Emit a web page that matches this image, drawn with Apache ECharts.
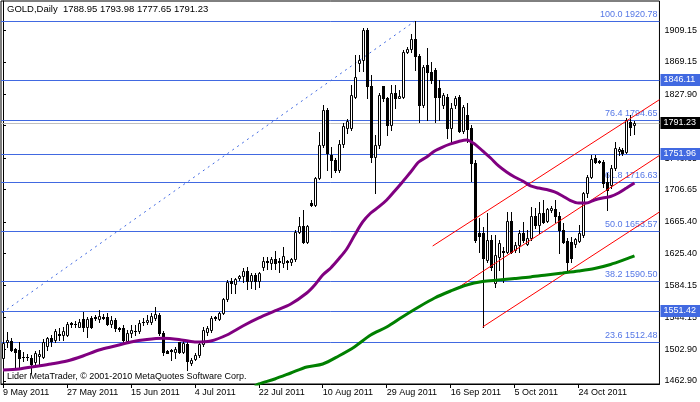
<!DOCTYPE html>
<html><head><meta charset="utf-8">
<script src="https://cdn.jsdelivr.net/npm/echarts@6/dist/echarts.min.js"></script>
<style>html,body{margin:0;padding:0;background:#fff}#c{width:700px;height:402px}</style>
</head><body><div id="c"></div>
<script>
// ---- data (bar index 0 = 9 May 2011, one bar per day except Saturdays) ----
const openP = [1492,1512,1514,1503,1502,1494,1493,1492,1487,1495,1494,1508,1517,1515,1523,1522,1522,1536,1536,1532,
1542,1532,1543,1543,1542,1544,1544,1535,1541,1530,1530,1514,1524,1527,1527,1538,1538,1538,1543,1547,
1524,1501,1501,1500,1512,1500,1510,1486,1491,1496,1510,1525,1528,1543,1542,1549,1567,1590,1586,1594,
1596,1603,1590,1598,1590,1608,1614,1613,1618,1614,1613,1615,1614,1618,1653,1660,1640,1690,1687,1721,
1763,1808,1751,1744,1731,1765,1785,1785,1825,1868,1872,1910,1838,1748,1763,1838,1823,1789,1829,1823,
1825,1882,1886,1898,1876,1814,1865,1856,1859,1836,1814,1825,1785,1814,1824,1781,1801,1785,1740,1651,
1651,1617,1642,1588,1621,1628,1627,1667,1630,1636,1651,1637,1645,1673,1662,1677,1667,1680,1682,1673,
1655,1641,1640,1637,1641,1649,1702,1723,1747,1743,1742,1716,1712,1734,1755,1757,1754,1793,1788.95];
const highP = [1513,1525,1518,1505,1512,1500,1497,1496,1501,1502,1516,1519,1521,1529,1530,1532,1538,1538,1539,1542,
1551,1544,1546,1547,1553,1548,1549,1545,1543,1531,1534,1528,1534,1534,1540,1543,1547,1549,1557,1549,
1526,1502,1504,1506,1513,1514,1512,1492,1499,1513,1531,1533,1546,1546,1551,1569,1591,1594,1594,1598,
1607,1608,1600,1600,1602,1621,1621,1621,1628,1619,1634,1617,1619,1655,1672,1680,1662,1693,1723,1780,
1814,1810,1761,1747,1770,1791,1797,1840,1878,1878,1912,1912,1853,1776,1830,1839,1824,1840,1840,1833,
1884,1888,1905,1920.78,1879,1865,1887,1869,1861,1846,1830,1828,1817,1826,1827,1814,1817,1789,1744,1670,
1659,1677,1649,1649,1642,1633,1678,1678,1640,1655,1665,1655,1684,1683,1691,1693,1683,1685,1693,1678,
1664,1645,1646,1645,1661,1703,1725,1751,1751,1744,1744,1728,1738,1767,1761,1759,1798,1801,1793.98];
const lowP = [1491,1506,1501,1480,1479,1488,1490,1473,1484,1485,1492,1502,1508,1512,1515,1515,1520,1532,1532,1531,
1526,1519,1530,1541,1538,1542,1534,1532,1526,1527,1513,1513,1519,1521,1524,1534,1536,1536,1540,1521,
1496,1498,1490,1492,1498,1498,1477,1483,1489,1494,1507,1522,1525,1540,1540,1548,1565,1575,1575,1591,
1589,1580,1581,1580,1583,1604,1606,1606,1606,1602,1608,1606,1610,1616,1651,1639,1638,1685,1685,1720,
1761,1731,1723,1729,1729,1761,1778,1782,1823,1857,1857,1823,1742,1702,1760,1819,1776,1782,1810,1823,
1823,1880,1882,1859,1793,1812,1795,1842,1793,1795,1810,1772,1766,1810,1780,1778,1767,1718,1640,1627,
1532,1614,1604,1583,1604,1589,1626,1626,1627,1627,1640,1636,1642,1658,1651,1664,1665,1678,1665,1626,
1638,1602,1614,1633,1640,1646,1697,1721,1740,1740,1710,1680,1708,1731,1751,1751,1753,1776,1777.65];
const closeP = [1511,1515,1502,1500,1492,1493,1494,1485,1498,1497,1513,1517,1514,1526,1522,1526,1536,1537,1535,1538,
1532,1542,1532,1544,1545,1543,1535,1541,1530,1529,1515,1524,1528,1527,1537,1538,1541,1546,1548,1524,
1500,1499,1502,1504,1500,1511,1488,1490,1496,1510,1528,1530,1543,1544,1549,1567,1589,1587,1593,1596,
1603,1590,1598,1590,1600,1616,1615,1618,1613,1615,1622,1614,1618,1653,1660,1640,1660,1687,1721,1763,
1808,1753,1744,1731,1765,1787,1794,1827,1850,1872,1910,1838,1748,1763,1827,1823,1789,1829,1823,1826,
1882,1885,1898,1876,1814,1863,1856,1846,1824,1824,1827,1785,1810,1823,1781,1812,1784,1740,1642,1647,
1619,1642,1608,1623,1639,1627,1667,1627,1636,1651,1642,1645,1673,1662,1677,1665,1682,1683,1673,1655,
1640,1614,1619,1643,1651,1702,1723,1745,1742,1742,1715,1706,1734,1760,1758,1753,1795,1786,1791.23];

// moving averages: [bar index, price]
const purpleMA = [[0,1476.9],[4,1478.1],[8,1481.3],[12,1484.5],[16,1488.3],[20,1494.7],[24,1502.3],[28,1507.4],
[32,1512.5],[36,1515.7],[40,1517.2],[44,1515.7],[48,1512.5],[52,1513.8],[56,1521.4],[60,1532.9],[64,1543.1],
[68,1552.0],[72,1560.9],[76,1574.9],[78,1585.1],[80,1597.8],[82,1606.7],[84,1618.2],[86,1630.9],[88,1648.7],
[90,1665.3],[92,1676.7],[94,1684.4],[96,1693.3],[98,1704.7],[100,1716.6],[102,1728.9],[104,1741.6],[106,1748.0],
[108,1755.7],[110,1760.7],[112,1764.6],[114,1767.8],[116,1769.7],[118,1764.6],[120,1755.7],[122,1746.7],
[124,1736.6],[126,1728.9],[128,1722.5],[130,1717.5],[132,1711.1],[134,1708.5],[136,1706.6],[138,1703.5],
[140,1698.4],[142,1692.6],[144,1689.5],[146,1689.5],[148,1693.3],[150,1695.8],[152,1697.7],[154,1702.2],
[156,1708.5],[158,1714.9]];
const greenMA = [[63,1456.5],[64,1459.0],[68,1465.4],[72,1473.0],[76,1480.7],[80,1484.5],[84,1494.7],[88,1506.5],
[92,1521.4],[96,1531.6],[100,1544.7],[104,1557.1],[108,1568.5],[112,1577.4],[116,1585.1],[120,1589.5],
[124,1591.4],[128,1593.3],[132,1595.3],[136,1597.8],[140,1600.3],[144,1602.9],[148,1606.1],[152,1611.2],
[156,1618.2],[158,1622.0]];

// channel lines (red): [start, end] as [bar index, price]
const channelUpper = [[107.5,1634.7],[164.25,1821.0]];
const channelMiddle = [[113.75,1581.3],[164.25,1750.0]];
const channelLower = [[120,1531.6],[164.25,1678.0]];
// Fibonacci trend line (low off-screen -> high)
const fibTrend = [[-45.6,1386.4],[103,1920.78]];
const fibRatios = ['100.0','76.4','61.8','50.0','38.2','23.6'];
const fibPrices = [1920.78,1794.65,1716.63,1653.57,1590.50,1512.48];
const hLinePrices = [1846.11,1751.96,1551.42];
const bidPrice = 1791.23;
const headerText = 'GOLD,Daily  1788.95 1793.98 1777.65 1791.23';

const xTickIndex = [0,16,32,48,64,80,96,112,128,144];
const xTickLabels = ['9 May 2011','27 May 2011','15 Jun 2011','4 Jul 2011','22 Jul 2011','10 Aug 2011',
'29 Aug 2011','16 Sep 2011','5 Oct 2011','24 Oct 2011'];
const yTickValues = [1909.15,1869.15,1827.90,1787.90,1746.65,1706.65,1665.40,1625.40,1584.15,1544.15,1502.90,1462.90];

// ---- chart ----
const FONT = '"Liberation Sans", Arial, sans-serif';
const BLUE = '#4169E1';
const chart = echarts.init(document.getElementById('c'), null, {renderer:'canvas'});

const candleData = openP.map((o,i)=>[i,o,closeP[i],lowP[i],highP[i]]);

function renderCandle(params, api){
  const i = api.value(0), o = api.value(1), c = api.value(2), l = api.value(3), h = api.value(4);
  const pO = api.coord([i,o]), pC = api.coord([i,c]);
  const x = Math.round(pO[0]);
  const yH = Math.round(api.coord([i,h])[1]);
  const yL = Math.round(api.coord([i,l])[1]);
  const top = Math.round(Math.min(pO[1],pC[1])), bot = Math.round(Math.max(pO[1],pC[1]));
  const ch = [{type:'rect', shape:{x:x, y:yH, width:1, height:Math.max(1,yL-yH+1)}, style:{fill:'#000'}}];
  if (c > o && bot - top >= 2) {
    ch.push({type:'rect', shape:{x:x-0.5, y:top+0.5, width:2, height:bot-top}, style:{fill:'#fff', stroke:'#000', lineWidth:1}});
  } else {
    ch.push({type:'rect', shape:{x:x-1, y:top, width:3, height:Math.max(1,bot-top+1)}, style:{fill:'#000'}});
  }
  return {type:'group', children:ch};
}

function renderFib(params, api){
  const cs = params.coordSys;
  const p = api.value(1);
  const y = Math.round(api.coord([0,p])[1]) + 0.5;
  return {type:'group', children:[
    {type:'line', shape:{x1:cs.x, y1:y, x2:cs.x+cs.width, y2:y}, style:{stroke:BLUE, lineWidth:1}},
    {type:'text', x:cs.x+cs.width-2, y:y-2, style:{text:fibRatios[params.dataIndex]+' '+p.toFixed(2), fill:'#5577e6', font:'9px '+FONT, align:'right', verticalAlign:'bottom'}}
  ]};
}
function renderHLine(params, api){
  const cs = params.coordSys;
  const y = Math.round(api.coord([0,api.value(1)])[1]) + 0.5;
  return {type:'line', shape:{x1:cs.x, y1:y, x2:cs.x+cs.width, y2:y}, style:{stroke:BLUE, lineWidth:1}};
}
function renderBid(params, api){
  const cs = params.coordSys;
  const y = Math.round(api.coord([0,api.value(1)])[1]) + 0.5;
  return {type:'line', shape:{x1:cs.x, y1:y, x2:cs.x+cs.width, y2:y}, style:{stroke:'#c0c0c0', lineWidth:1}};
}
function renderTag(params, api){
  const cs = params.coordSys;
  const p = api.value(1);
  const y = Math.round(api.coord([0,p])[1]);
  const bg = (p === bidPrice) ? '#000' : BLUE;
  return {type:'group', children:[
    {type:'rect', shape:{x:cs.x+cs.width+1, y:y-6, width:40, height:12}, style:{fill:bg}},
    {type:'text', x:cs.x+cs.width+4, y:y, style:{text:p.toFixed(2), fill:'#fff', font:'9px '+FONT, align:'left', verticalAlign:'middle'}}
  ]};
}

const option = {
  animation:false,
  backgroundColor:'#fff',
  grid:{left:1, right:40, top:1, bottom:18, show:true, borderColor:'#000', borderWidth:1, backgroundColor:'#fff'},
  xAxis:{type:'value', min:-0.5, max:164.25, position:'bottom',
    axisLine:{show:true, onZero:false, lineStyle:{color:'#000', width:1}},
    axisTick:{show:true, customValues:xTickIndex, length:4, lineStyle:{color:'#000'}},
    axisLabel:{show:true, customValues:xTickIndex, formatter:(v)=>xTickLabels[xTickIndex.indexOf(Math.round(v))]||'',
      align:'left', margin:4, color:'#000', fontSize:9, fontFamily:FONT},
    splitLine:{show:false}},
  yAxis:{type:'value', min:1459.0, max:1946.6, position:'right',
    axisLine:{show:true, lineStyle:{color:'#000', width:1}},
    axisTick:{show:true, customValues:yTickValues, length:3, lineStyle:{color:'#000'}},
    axisLabel:{show:true, customValues:yTickValues, formatter:(v)=>Number(v).toFixed(2), margin:5, color:'#000', fontSize:9, fontFamily:FONT},
    splitLine:{show:false}},
  graphic:[
    {type:'text', left:7, top:4, style:{text:headerText, fill:'#000', font:'9.5px '+FONT}, z:100},
    {type:'text', left:7, top:372, style:{text:'Lider MetaTrader, \u00a9 2001-2010 MetaQuotes Software Corp.', fill:'#000', font:'9px '+FONT}, z:100}
  ],
  series:[
    {type:'custom', name:'hlines', renderItem:renderHLine, data:hLinePrices.map(p=>[0,p]), encode:{x:0,y:1}, z:1, silent:true},
    {type:'custom', name:'fib', renderItem:renderFib, data:fibPrices.map(p=>[0,p]), encode:{x:0,y:1}, z:1, silent:true},
    {type:'custom', name:'bid', renderItem:renderBid, data:[[0,bidPrice]], encode:{x:0,y:1}, z:1, silent:true},
    {type:'line', name:'fibTrend', data:fibTrend, showSymbol:false, symbol:'none', clip:true, z:1,
      lineStyle:{color:BLUE, width:1, type:[2,4]}},
    {type:'custom', name:'candles', renderItem:renderCandle, data:candleData, encode:{x:0,y:[1,2,3,4]}, clip:true, z:3},
    {type:'line', name:'chU', data:channelUpper, symbol:'none', clip:true, z:4, lineStyle:{color:'#ff0000', width:1}},
    {type:'line', name:'chM', data:channelMiddle, symbol:'none', clip:true, z:4, lineStyle:{color:'#ff0000', width:1}},
    {type:'line', name:'chL', data:channelLower, symbol:'none', clip:true, z:4, lineStyle:{color:'#ff0000', width:1}},
    {type:'line', name:'maPurple', data:purpleMA, symbol:'none', clip:true, z:5, smooth:0.3, lineStyle:{color:'#800080', width:3}},
    {type:'line', name:'maGreen', data:greenMA, symbol:'none', clip:true, z:5, smooth:0.3, lineStyle:{color:'#008000', width:3}},
    {type:'custom', name:'tags', renderItem:renderTag, data:[1846.11,bidPrice,1751.96,1551.42].map(p=>[0,p]), encode:{x:0,y:1}, z:10, clip:false, silent:true}
  ]
};
chart.setOption(option);
</script>
</body></html>
